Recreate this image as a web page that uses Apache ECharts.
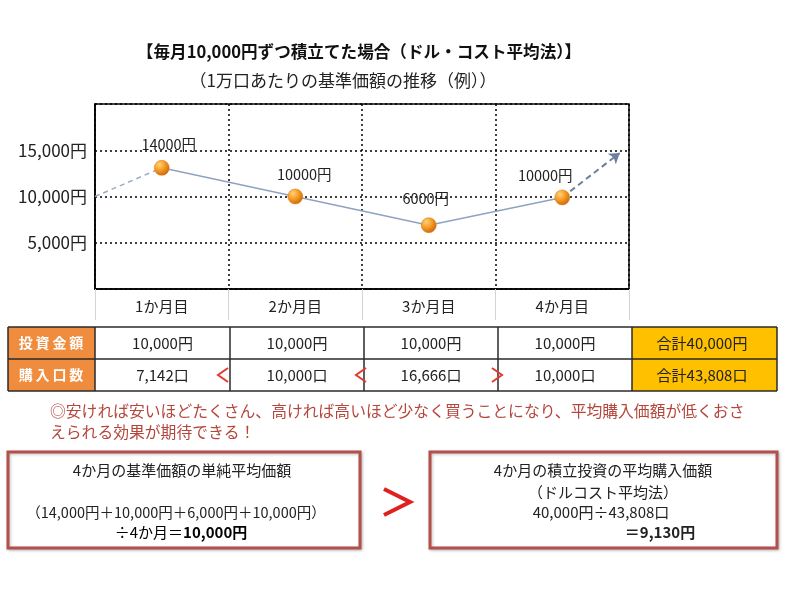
<!DOCTYPE html>
<html>
<head>
<meta charset="utf-8">
<script src="https://cdn.jsdelivr.net/npm/echarts@6/dist/echarts.min.js"></script>
<style>
  html, body { margin: 0; padding: 0; background: #fff; }
  #chart { width: 800px; height: 589px; }
</style>
</head>
<body>
<div id="chart"></div>
<script>
// データ
const months = ['1か月目', '2か月目', '3か月目', '4か月目'];
const navValues = [13100, 10000, 6900, 9900];          // 描画位置（読み取り値）
const navLabels = ['14000円', '10000円', '6000円', '10000円'];
const yTickLabels = { 5000: '5,000円', 10000: '10,000円', 15000: '15,000円' };
const leadIn = [[0, 10000], [0.5, 13100]];
const leadOut = [[3.5, 9900], [3.93, 14700]];

const investAmounts = ['10,000円', '10,000円', '10,000円', '10,000円'];
const investTotal = '合計40,000円';
const unitCounts = ['7,142口', '10,000口', '16,666口', '10,000口'];
const unitTotal = '合計43,808口';
const compareSigns = ['<', '<', '>'];

const FONT = "'Noto Sans CJK JP', 'Noto Sans', sans-serif";
const chart = echarts.init(document.getElementById('chart'));

// ラベル位置の微調整
const labelOffsets = [[7, -23], [9, -22], [-3, -27], [-17, -22]];

// 表
const colX = [95, 230, 364, 498, 632, 777];
const rowY = [327, 359, 391];
const g = [];
g.push({ type: 'rect', shape: { x: 8, y: rowY[0], width: 87, height: 64 }, style: { fill: '#F08C3E' } });
g.push({ type: 'rect', shape: { x: 632, y: rowY[0], width: 145, height: 64 }, style: { fill: '#FFC000' } });
rowY.forEach(y => g.push({ type: 'line', shape: { x1: 8, y1: y, x2: 777, y2: y }, style: { stroke: '#2a2a2a', lineWidth: 1.5 } }));
[8].concat(colX).forEach(x => g.push({ type: 'line', shape: { x1: x, y1: rowY[0], x2: x, y2: rowY[2] }, style: { stroke: '#2a2a2a', lineWidth: 1.5 } }));

function txt(text, x, y, opt) {
  return Object.assign({ type: 'text', style: Object.assign({
    text: text, x: x, y: y, fill: '#222', font: '15px ' + FONT,
    textAlign: 'center', textVerticalAlign: 'middle'
  }, opt || {}) });
}
g.push(txt('投\u2009資\u2009金\u2009額', 51, 343, { fill: '#fff', font: 'bold 14px ' + FONT }));
g.push(txt('購\u2009入\u2009口\u2009数', 51, 375, { fill: '#fff', font: 'bold 14px ' + FONT }));
for (let i = 0; i < 4; i++) {
  const cx = (colX[i] + colX[i + 1]) / 2;
  g.push(txt(investAmounts[i], cx, 343));
  g.push(txt(unitCounts[i], cx, 375));
}
g.push(txt(investTotal, 702, 343));
g.push(txt(unitTotal, 702, 375));
const signX = [223, 361, 497];
compareSigns.forEach((s, i) => {
  const x = signX[i], y = 375, d = s === '<' ? 1 : -1;
  g.push({ type: 'polyline', shape: { points: [[x + 5 * d, y - 7], [x - 5 * d, y], [x + 5 * d, y + 7]] },
    style: { stroke: '#E23A30', lineWidth: 2, fill: null } });
});

// 注記
g.push(txt('◎安ければ安いほどたくさん、高ければ高いほど少なく買うことになり、平均購入価額が低くおさ', 50, 411,
  { fill: '#B5463B', font: '15.8px ' + FONT, textAlign: 'left' }));
g.push(txt('えられる効果が期待できる！', 50, 432, { fill: '#B5463B', font: '15.8px ' + FONT, textAlign: 'left' }));

// 下段ボックス
[[8, 452, 352, 96], [430, 452, 347, 96]].forEach(b => g.push({
  type: 'rect', shape: { x: b[0], y: b[1], width: b[2], height: b[3] },
  style: { fill: '#fff', stroke: '#B3504C', lineWidth: 3, shadowBlur: 3, shadowColor: 'rgba(0,0,0,0.25)', shadowOffsetX: 1, shadowOffsetY: 1 }
}));
g.push(txt('4か月の基準価額の単純平均価額', 182, 470));
g.push(txt('（14,000円＋10,000円＋6,000円＋10,000円）', 176, 512, { font: '14.5px ' + FONT }));
g.push({ type: 'text', style: {
  text: '{n|÷4か月＝}{b|10,000円}', x: 181, y: 532, textAlign: 'center', textVerticalAlign: 'middle',
  rich: { n: { fontSize: 15, fontFamily: FONT, color: '#222' }, b: { fontSize: 15, fontFamily: FONT, fontWeight: 'bold', color: '#222' } }
} });
g.push(txt('4か月の積立投資の平均購入価額', 603, 470));
g.push(txt('（ドルコスト平均法）', 603, 492));
g.push(txt('40,000円÷43,808口', 601, 512));
g.push(txt('＝9,130円', 660, 532, { font: 'bold 15px ' + FONT }));
g.push({ type: 'polyline', shape: { points: [[384, 489], [410, 502], [384, 515]] },
  style: { stroke: '#E0201E', lineWidth: 4, fill: null } });

chart.setOption({
  backgroundColor: '#fff',
  animation: false,
  title: [
    { text: '【毎月10,000円ずつ積立てた場合（ドル・コスト平均法）】', left: 359, top: 43, textAlign: 'center', padding: 0,
      textStyle: { fontSize: 16.6, fontWeight: 'bold', color: '#111', fontFamily: FONT } },
    { text: '（1万口あたりの基準価額の推移（例））', left: 343, top: 72, textAlign: 'center', padding: 0,
      textStyle: { fontSize: 17, fontWeight: 'normal', color: '#222', fontFamily: FONT } }
  ],
  grid: { left: 95, top: 104, right: 171, bottom: 300, show: true, borderColor: '#000', borderWidth: 1.5 },
  xAxis: [
    { type: 'category', data: months, boundaryGap: true, position: 'bottom',
      axisLine: { show: true, lineStyle: { color: '#000', width: 1.5 } },
      axisTick: { show: true, length: 31, lineStyle: { color: '#d4d4d4', width: 1 } },
      axisLabel: { color: '#222', fontSize: 15, fontFamily: FONT, margin: 10 },
      splitLine: { show: false } },
    { type: 'value', min: 0, max: 4, interval: 1, position: 'bottom',
      axisLine: { show: false }, axisTick: { show: false }, axisLabel: { show: false },
      splitLine: { show: true, lineStyle: { color: '#000', width: 1.5, type: [2, 3] } } }
  ],
  yAxis: {
    type: 'value', min: 0, max: 20000, interval: 5000,
    axisLine: { show: true, lineStyle: { color: '#000', width: 1.5 } },
    axisTick: { show: false },
    axisLabel: { color: '#222', fontSize: 17, fontFamily: FONT, margin: 8,
      formatter: v => yTickLabels[v] || '' },
    splitLine: { show: true, lineStyle: { color: '#000', width: 1.5, type: [2, 3] } }
  },
  series: [
    { type: 'lines', coordinateSystem: 'cartesian2d', xAxisIndex: 1, yAxisIndex: 0,
      symbol: ['none', 'none'],
      lineStyle: { color: '#9AABC4', width: 1.5, type: [5, 4], opacity: 1 },
      data: [{ coords: leadIn }] },
    { type: 'lines', coordinateSystem: 'cartesian2d', xAxisIndex: 1, yAxisIndex: 0,
      symbol: ['none', 'arrow'], symbolSize: 10,
      lineStyle: { color: '#6C809E', width: 2, type: [6, 4], opacity: 1 },
      data: [{ coords: leadOut }] },
    { type: 'line', xAxisIndex: 0, yAxisIndex: 0,
      data: navValues.map((v, i) => ({ value: v, label: { offset: labelOffsets[i] } })),
      lineStyle: { color: '#8EA3C4', width: 1.5 },
      symbol: 'circle', symbolSize: 15,
      itemStyle: {
        color: new echarts.graphic.RadialGradient(0.35, 0.3, 0.75, [
          { offset: 0, color: '#FFD27A' }, { offset: 0.5, color: '#F59A24' }, { offset: 1, color: '#C9650A' }
        ]),
        borderColor: '#D9780F', borderWidth: 0.5
      },
      label: { show: true, position: 'inside', color: '#222', fontSize: 14.5, fontFamily: FONT,
        formatter: p => navLabels[p.dataIndex] },
      z: 5 }
  ],
  graphic: g
});
</script>
</body>
</html>
